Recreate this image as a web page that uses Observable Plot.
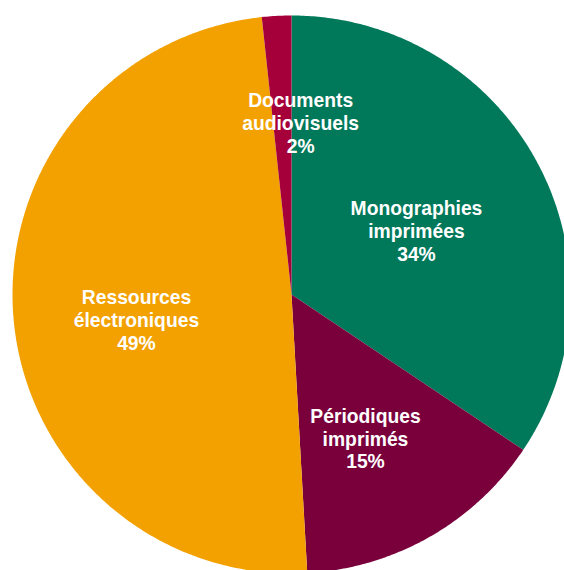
<!DOCTYPE html>
<html>
<head>
<meta charset="utf-8">
<script src="https://cdn.jsdelivr.net/npm/d3@7"></script>
<script src="https://cdn.jsdelivr.net/npm/@observablehq/plot@0.6"></script>
<style>
  html, body { margin: 0; padding: 0; background: #fff; }
  svg { display: block; }
</style>
</head>
<body>
<div id="chart"></div>
<script>
const categories = ["Monographies imprimées", "Périodiques imprimés", "Ressources électroniques", "Documents audiovisuels"];
const labelLines = [["Monographies", "imprimées"], ["Périodiques", "imprimés"], ["Ressources", "électroniques"], ["Documents", "audiovisuels"]];
const values = [34.4, 14.7, 49.2, 1.7];
const colors = ["#00785A", "#7A003C", "#F2A100", "#A6003A"];

// label placement (fraction of radius, angular nudge in degrees)
const labelRadius = [0.503, 0.58, 0.563, 0.617];
const labelNudge = [1.0, 2.5, -4.5, 6.1];

const total = d3.sum(values);
const slices = [];
const labels = [];
let acc = 0;
values.forEach((v, i) => {
  const a0 = acc / total * 2 * Math.PI;
  const a1 = (acc + v) / total * 2 * Math.PI;
  acc += v;
  slices.push({cat: categories[i], x: 0, y: 0});
  const n = Math.max(2, Math.ceil((a1 - a0) / (Math.PI / 360)));
  for (let k = 0; k <= n; k++) {
    const a = a0 + (a1 - a0) * k / n;
    slices.push({cat: categories[i], x: Math.sin(a), y: Math.cos(a)});
  }
  slices.push({cat: categories[i], x: 0, y: 0});
  const am = (a0 + a1) / 2 + labelNudge[i] * Math.PI / 180;
  const lr = labelRadius[i];
  labels.push({
    cat: categories[i],
    x: lr * Math.sin(am),
    y: lr * Math.cos(am),
    text: labelLines[i].join("\n") + "\n" + Math.round(v / total * 100) + "%"
  });
});

const W = 564, H = 570, cx = 291, cy = 294, R = 279;
const chart = Plot.plot({
  width: W,
  height: H,
  margin: 0,
  x: {domain: [-cx / R, (W - cx) / R], axis: null},
  y: {domain: [-(H - cy) / R, cy / R], axis: null},
  color: {domain: categories, range: colors},
  style: {background: "#fff"},
  marks: [
    Plot.line(slices, {x: "x", y: "y", z: "cat", fill: "cat", stroke: "none", curve: "linear", clip: true}),
    Plot.text(labels, {
      x: "x", y: "y", text: "text",
      fill: "#fff",
      fontSize: 19.3,
      fontWeight: "bold",
      fontFamily: "Liberation Sans, Arial, sans-serif",
      lineHeight: 1.18
    })
  ]
});
document.getElementById("chart").appendChild(chart);
</script>
</body>
</html>
